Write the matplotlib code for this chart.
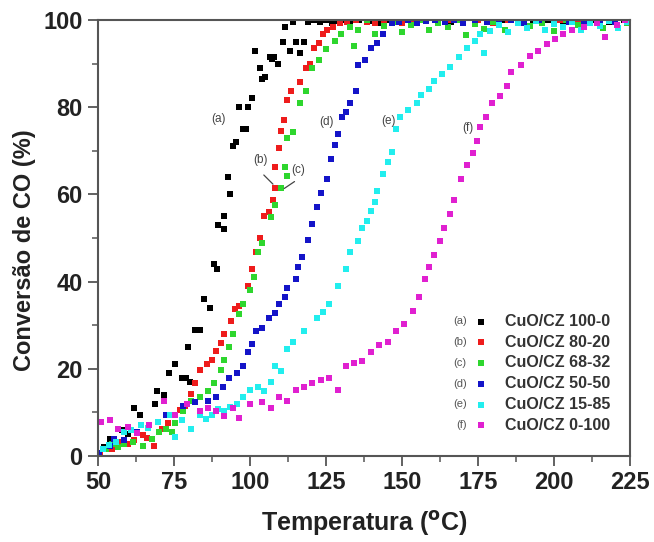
import matplotlib
matplotlib.use('Agg')
import matplotlib.pyplot as plt
from matplotlib.ticker import MultipleLocator

plt.rcParams['font.family'] = ['Liberation Sans', 'DejaVu Sans']

# (temperature, conversion) pairs
pts_a = [(52, 2), (54, 4), (56, 3), (58, 6), (60, 5), (61.7, 11), (63.9, 9.5), (68.7, 12), (69.4, 15),
         (71.7, 14), (73.5, 19), (75.2, 21), (77.6, 18), (79, 18), (80.4, 17), (79.7, 25), (82, 29),
         (83.4, 29), (84.8, 36), (86.8, 34), (88, 44), (89, 43), (89.6, 53), (91.6, 52), (91.6, 55),
         (93.4, 60), (92.8, 64), (94.4, 71), (95.5, 72), (97.6, 75), (98.8, 75), (96.3, 80), (99.3, 80),
         (100.7, 82), (101.8, 93), (103.2, 89), (103.9, 86.5), (104.8, 87), (106.6, 91.5), (107.9, 91.5),
         (107.3, 91), (109.3, 90), (110.9, 95), (111.6, 98.4), (113, 93), (114.3, 99.6), (115, 95),
         (116.4, 92.5), (117.8, 95), (119.1, 99.6),
         (121, 100), (123, 99.5), (125, 100), (127, 99.2), (129, 99.8), (131, 100), (133, 99.4),
         (136, 100), (139, 99.7), (142, 99.3), (145, 100), (148, 99.6), (151, 100), (154, 99.2),
         (158, 99.8), (162, 100), (166, 99.5), (170, 100), (174, 99.1), (178, 99.8), (183, 100),
         (188, 99.4), (193, 99.9), (198, 100), (203, 99.3), (208, 99.8), (213, 100), (218, 99.5), (223, 99.9)]

pts_b = [(50.5, 0.5), (52, 1.5), (54.5, 1.6), (56, 2.5), (58, 3.2), (60, 2.8), (62, 3.6), (64.8, 4.8),
         (66, 4.2), (68.5, 2.4), (71, 6.3), (73, 7.5), (75, 9.5), (77, 10.5), (78.6, 11.5), (80.7, 14.3),
         (82, 16.7), (83.4, 19.8), (86, 21), (87.5, 22), (88.9, 24), (90.3, 26), (91.6, 28), (93.7, 31),
         (95, 33.7), (96.4, 34.5), (99.2, 38.9), (100.6, 42.8), (101.9, 46.8), (103.3, 50), (104.7, 55),
         (106.1, 56), (107.5, 58.7), (108.2, 61.5), (108.2, 66.3), (109.5, 70.6), (110.3, 74.6),
         (111.3, 77), (112.3, 81.7), (113.6, 83.7), (116.4, 85.7), (118.5, 88.9), (119.8, 90),
         (121.2, 93.6), (122.6, 94.8), (124, 96.8), (125.3, 97.6), (127.4, 98.4), (129.5, 99.2),
         (132, 99.6), (135, 100), (138.4, 99.6), (141, 99.2), (144, 100), (147, 99.7), (150, 99.4),
         (154, 100), (158, 99.8), (162, 99.3), (166, 100), (170, 99.6), (175, 99.9), (180, 99.2),
         (185, 100), (190, 99.7), (196, 99.5), (202, 100), (208, 99.3), (214, 99.9), (220, 100), (224, 99.6)]

pts_c = [(50.4, 0.4), (52.5, 1.6), (54.5, 2.8), (56.5, 2), (58.7, 2.8), (61.4, 3.2), (64.8, 2.4),
         (67.6, 4), (70, 5.5), (72.4, 6.3), (74.5, 5.6), (75.2, 7.5), (77.9, 10.3), (80.7, 12.7),
         (83.4, 13.5), (86.2, 15), (88.2, 16.7), (90.3, 19.8), (91.6, 22), (93, 25), (94.4, 28),
         (96.4, 32.5), (97.8, 34.9), (99.9, 38), (101.2, 41), (102.6, 46.8), (104, 48.8), (106.8, 54.8),
         (108.2, 57.5), (110.3, 61.5), (112.3, 64.3), (111.6, 66.3), (112.3, 73), (114.3, 74.2),
         (116.4, 81), (118.5, 83.7), (120.5, 88.9), (122.6, 90.9), (125, 93.3), (128, 95.2),
         (130, 96.8), (134.3, 94), (133, 98.4), (135.6, 97.6), (138.4, 100),
         (141.2, 96.8), (144, 98.6), (147, 99.5), (150, 97.2), (153, 98.8), (156, 100), (159, 97.6),
         (162, 99.2), (165, 98.4), (168, 100), (171, 96.5), (174, 99), (177, 98), (180, 99.6),
         (184, 97.8), (188, 100), (192, 98.6), (196, 99.4), (200, 97.5), (204, 100), (208, 98.9),
         (212, 99.5), (216, 98.2), (220, 100), (224, 99.3)]

pts_d = [(50.4, 0.8), (53.8, 2.4), (55.2, 4), (58.7, 3.6), (62.8, 5.6), (66.9, 7.1), (72.4, 9.5),
         (77.9, 11.5), (82, 12.3), (86.2, 12.7), (88.9, 13.5), (91, 15.9), (93, 17.9), (95.8, 19),
         (97.8, 20.6), (99.2, 23.8), (100.6, 25.8), (102, 28.6), (104, 29.4), (106.1, 31.7),
         (108.2, 32.9), (109.5, 34.9), (111.6, 36.5), (112.3, 38.5), (115, 40.5), (115.7, 43.3),
         (117, 45.6), (119, 49.6), (120.5, 53.2), (122, 57), (123.4, 60.3), (125.3, 63.5),
         (126.7, 68.2), (128.1, 71.4), (128.8, 73.8), (130.2, 77.8), (131.5, 79), (132.9, 81),
         (135, 83.7), (135.6, 89.7), (137.7, 90.9), (139.7, 93.6), (141.8, 94.8), (143.9, 96.8),
         (146.6, 99.2), (149, 99.6), (152, 100), (155, 99.2), (158, 99.8), (161, 100), (164, 99.5),
         (167, 99.9), (170, 99.3), (174, 100), (178, 99.6), (182, 99.8), (186, 100), (190, 99.4),
         (195, 99.9), (200, 100), (205, 99.5), (210, 99.8), (215, 100), (220, 99.6), (224, 99.9)]

pts_e = [(51.8, 1.6), (53.5, 2.5), (55.9, 3.2), (58.7, 5.6), (61, 6), (64.1, 7.1), (66.5, 6.5),
         (69.7, 7.9), (73.8, 9.5), (75.2, 4.4), (77.5, 8.2), (80.7, 6.3), (83.4, 9.5), (85.5, 8.5),
         (87.5, 9.5), (89.5, 10.8), (91.6, 10.3), (93.5, 11.2), (95.8, 11.9), (97.8, 13.5),
         (99.9, 15.1), (102.6, 15.9), (104.5, 14.8), (106.8, 17), (108.2, 20.6), (110.2, 19.5),
         (112.3, 24.6), (114.3, 26.2), (117.8, 28.6), (121.9, 31.7), (124, 33), (126, 34.9),
         (128.8, 38.9), (131.5, 42.9), (132.9, 46.8), (135.6, 49.2), (137, 52.4), (138.4, 54),
         (139.7, 56.3), (141.2, 58.3), (141.8, 60.7), (143.9, 64.7), (145.3, 67.5), (146.6, 69.8),
         (148, 75), (149.4, 77.8), (152.1, 79.4), (154.9, 81), (156.3, 82.9), (159, 84.1),
         (160.4, 86.1), (163.1, 87.7), (165.9, 89.2), (168.6, 91.6), (171.4, 93.6), (174.1, 95.2),
         (175.5, 96.8), (176.9, 92.5), (179, 97.5), (182, 98.8), (185, 97.2), (188, 99.4),
         (191, 98.2), (194, 99.8), (197, 97.8), (200, 99), (203, 98.5), (206, 99.6), (209, 97.6),
         (212, 99.2), (215, 98.6), (218, 99.8), (221, 98.2), (224, 99.5)]

pts_f = [(51.1, 7.9), (53.8, 8.3), (56.5, 6.3), (60, 6.7), (62.8, 5.2), (66.9, 7.1), (71.7, 12.7),
         (75.2, 9.5), (79.3, 11.9), (83.4, 10.3), (86.2, 11.1), (88.9, 10.3), (91.6, 9.1), (94.4, 11.1),
         (96.4, 8.7), (99.9, 11.9), (104, 12.3), (106.8, 11.1), (109.5, 13.5), (112.3, 12.7),
         (115, 15.1), (117.8, 15.9), (120.5, 16.7), (123.4, 17.5), (126, 17.9), (128.8, 15.1),
         (131.5, 20.6), (134.3, 21.4), (137, 21.8), (139.7, 23.8), (142.5, 25.4), (145.3, 26.2),
         (148, 28.6), (150.8, 30.2), (153.5, 33.3), (155.6, 36.5), (157.6, 40.5), (159, 43.3),
         (160.4, 46), (162.4, 49.2), (163.8, 52.4), (165.9, 55.6), (167.2, 58.7), (169.3, 63.5),
         (171.4, 66.7), (173.4, 69.4), (174.8, 72.2), (175.5, 75.4), (177.6, 77.8), (179.6, 81),
         (182.4, 82.5), (184.4, 84.9), (185.8, 88.1), (189.3, 89.7), (192, 91.7), (194.8, 92.9),
         (197.6, 94.4), (200.3, 95.6), (203, 96.8), (205.8, 97.6), (209.9, 98.4), (214, 99.2),
         (216.8, 96), (220.8, 98.8), (223.5, 100)]

series = [pts_a, pts_b, pts_c, pts_d, pts_e, pts_f]
tags = ['(a)', '(b)', '(c)', '(d)', '(e)', '(f)']
labels = ['CuO/CZ 100-0', 'CuO/CZ 80-20', 'CuO/CZ 68-32', 'CuO/CZ 50-50', 'CuO/CZ 15-85', 'CuO/CZ 0-100']
colors = ['#000000', '#ee1c1c', '#2ed62e', '#1414c8', '#22eeee', '#e020d0']

fig = plt.figure(figsize=(6.54, 5.42), dpi=100)
ax = fig.add_axes([98 / 654, 1 - 456 / 542, 532 / 654, 436 / 542])

handles = []
for pts, col, lab in zip(series, colors, labels):
    xs = [p[0] for p in pts]
    ys = [p[1] for p in pts]
    h = ax.scatter(xs, ys, s=13, marker='s', color=col, linewidths=0, label=lab)
    handles.append(h)

ax.set_xlim(50, 225)
ax.set_ylim(0, 100)
ax.xaxis.set_major_locator(MultipleLocator(25))
ax.xaxis.set_minor_locator(MultipleLocator(12.5))
ax.yaxis.set_major_locator(MultipleLocator(20))
ax.yaxis.set_minor_locator(MultipleLocator(10))
for sp in ax.spines.values():
    sp.set_color('#555555')
    sp.set_linewidth(1.5)
ax.tick_params(which='major', direction='out', length=7, width=1.3, color='#555555',
               labelsize=17, pad=4, labelcolor='#222222')
ax.tick_params(which='minor', direction='out', length=4, width=1.1, color='#555555')
for t in ax.get_xticklabels() + ax.get_yticklabels():
    t.set_fontweight('bold')

fig.text(25 / 654, 1 - 250 / 542, 'Conversão de CO (%)', rotation=90, ha='center', va='center',
         fontsize=17, fontweight='bold', color='#222222')
fig.text(364 / 654, 1 - 524 / 542, r'Temperatura ($^{\mathbf{o}}$C)', ha='center', va='center',
         fontsize=18, fontweight='bold', color='#222222')

# curve labels
ann_color = '#444444'
ax.text(89.8, 77.3, '(a)', fontsize=8.5, color=ann_color, ha='center', va='center')
ax.text(103.3, 67.9, '(b)', fontsize=8.5, color=ann_color, ha='center', va='center')
ax.text(115.8, 65.6, '(c)', fontsize=8.5, color=ann_color, ha='center', va='center')
ax.text(125.3, 76.6, '(d)', fontsize=8.5, color=ann_color, ha='center', va='center')
ax.text(145.4, 76.8, '(e)', fontsize=8.5, color=ann_color, ha='center', va='center')
ax.text(171.7, 75.2, '(f)', fontsize=8.5, color=ann_color, ha='center', va='center')
ax.annotate('', xy=(108.2, 61.9), xytext=(103.9, 64.9),
            arrowprops=dict(arrowstyle='-', color=ann_color, lw=0.9))
ax.annotate('', xy=(110.5, 61.0), xytext=(115.4, 63.3),
            arrowprops=dict(arrowstyle='-', color=ann_color, lw=0.9))

leg = ax.legend(handles=handles, loc='upper left', bbox_to_anchor=(174, 32.6),
                bbox_transform=ax.transData, frameon=False,
                prop={'weight': 'bold', 'size': 11.5}, handlelength=0.75, handletextpad=1.15,
                labelspacing=0.36, borderpad=0, borderaxespad=0, scatterpoints=1, markerscale=1.1)
for t in leg.get_texts():
    t.set_color('#333333')

fig.canvas.draw()
inv = ax.transData.inverted()
for t, tag in zip(leg.get_texts(), tags):
    bb = t.get_window_extent()
    yc = inv.transform((0, (bb.y0 + bb.y1) / 2))[1]
    ax.text(171.3, yc, tag, fontsize=8, color='#555555', ha='right', va='center')

fig.savefig('out.png', dpi=100)
